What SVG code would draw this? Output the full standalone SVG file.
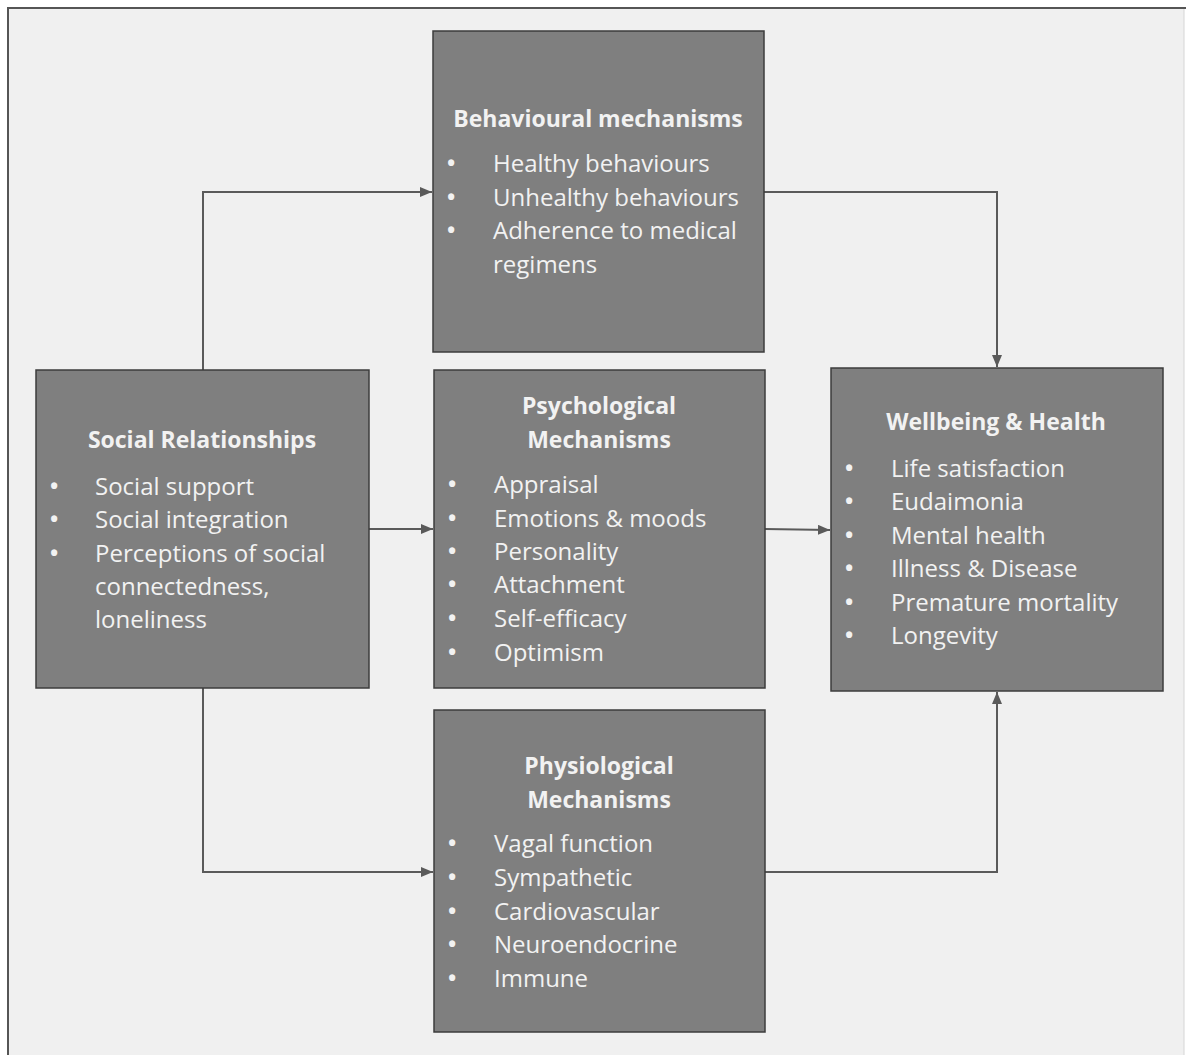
<svg xmlns="http://www.w3.org/2000/svg" width="1186" height="1055" viewBox="0 0 1186 1055">
<defs>
<style>
.box{fill:#7f7f7f;stroke:#3c3c3c;stroke-width:1.5}
.t{font-family:"Open Sans","Liberation Sans",sans-serif;font-size:23px;fill:#f2f2f2}
.i{font-size:24px}
.b{font-size:22px;font-weight:bold}
.h{font-weight:bold;font-size:23px;text-anchor:middle}
.c{fill:none;stroke:#5a5a5a;stroke-width:2}
</style>
<marker id="ah" viewBox="0 0 12 10" refX="12" refY="5" markerWidth="12" markerHeight="10" markerUnits="userSpaceOnUse" orient="auto">
<path d="M0,0 L12,5 L0,10 z" fill="#5a5a5a"/>
</marker>
</defs>
<rect x="0" y="0" width="1186" height="1055" fill="#ffffff"/>
<rect x="8" y="8" width="1176" height="1070" fill="#f0f0f0"/>
<path d="M8,1060 V8 H1186" fill="none" stroke="#555555" stroke-width="2"/>
<path d="M1184,9 V1055" fill="none" stroke="#d6d6d6" stroke-width="1"/>

<g id="connectors">
<path class="c" d="M203,370 V192 H432" marker-end="url(#ah)"/>
<path class="c" d="M764,192 H997 V367" marker-end="url(#ah)"/>
<path class="c" d="M369,529 H433" marker-end="url(#ah)"/>
<path class="c" d="M765,529 L830,530" marker-end="url(#ah)"/>
<path class="c" d="M203,688 V872 H433" marker-end="url(#ah)"/>
<path class="c" d="M765,872 H997 V692" marker-end="url(#ah)"/>
</g>

<g id="social">
<rect class="box" x="36" y="370" width="333" height="318"/>
<text class="t h" x="202" y="448">Social Relationships</text>
<text class="t b" x="50" y="494">•</text><text class="t i" x="95" y="495">Social support</text>
<text class="t b" x="50" y="527">•</text><text class="t i" x="95" y="528">Social integration</text>
<text class="t b" x="50" y="561">•</text><text class="t i" x="95" y="562">Perceptions of social</text>
<text class="t i" x="95" y="595">connectedness,</text>
<text class="t i" x="95" y="628">loneliness</text>
</g>

<g id="behavioural">
<rect class="box" x="433" y="31" width="331" height="321"/>
<text class="t h" x="598" y="127">Behavioural mechanisms</text>
<text class="t b" x="447" y="171">•</text><text class="t i" x="493" y="172">Healthy behaviours</text>
<text class="t b" x="447" y="205">•</text><text class="t i" x="493" y="206">Unhealthy behaviours</text>
<text class="t b" x="447" y="238">•</text><text class="t i" x="493" y="239">Adherence to medical</text>
<text class="t i" x="493" y="273">regimens</text>
</g>

<g id="psychological">
<rect class="box" x="434" y="370" width="331" height="318"/>
<text class="t h" x="599" y="414">Psychological</text>
<text class="t h" x="599" y="448">Mechanisms</text>
<text class="t b" x="448" y="492">•</text><text class="t i" x="494" y="493">Appraisal</text>
<text class="t b" x="448" y="526">•</text><text class="t i" x="494" y="527">Emotions &amp; moods</text>
<text class="t b" x="448" y="559">•</text><text class="t i" x="494" y="560">Personality</text>
<text class="t b" x="448" y="592">•</text><text class="t i" x="494" y="593">Attachment</text>
<text class="t b" x="448" y="626">•</text><text class="t i" x="494" y="627">Self-efficacy</text>
<text class="t b" x="448" y="660">•</text><text class="t i" x="494" y="661">Optimism</text>
</g>

<g id="wellbeing">
<rect class="box" x="831" y="368" width="332" height="323"/>
<text class="t h" x="996" y="430">Wellbeing &amp; Health</text>
<text class="t b" x="845" y="476">•</text><text class="t i" x="891" y="477">Life satisfaction</text>
<text class="t b" x="845" y="509">•</text><text class="t i" x="891" y="510">Eudaimonia</text>
<text class="t b" x="845" y="543">•</text><text class="t i" x="891" y="544">Mental health</text>
<text class="t b" x="845" y="576">•</text><text class="t i" x="891" y="577">Illness &amp; Disease</text>
<text class="t b" x="845" y="610">•</text><text class="t i" x="891" y="611">Premature mortality</text>
<text class="t b" x="845" y="643">•</text><text class="t i" x="891" y="644">Longevity</text>
</g>

<g id="physiological">
<rect class="box" x="434" y="710" width="331" height="322"/>
<text class="t h" x="599" y="774">Physiological</text>
<text class="t h" x="599" y="808">Mechanisms</text>
<text class="t b" x="448" y="851">•</text><text class="t i" x="494" y="852">Vagal function</text>
<text class="t b" x="448" y="885">•</text><text class="t i" x="494" y="886">Sympathetic</text>
<text class="t b" x="448" y="919">•</text><text class="t i" x="494" y="920">Cardiovascular</text>
<text class="t b" x="448" y="952">•</text><text class="t i" x="494" y="953">Neuroendocrine</text>
<text class="t b" x="448" y="986">•</text><text class="t i" x="494" y="987">Immune</text>
</g>
</svg>
